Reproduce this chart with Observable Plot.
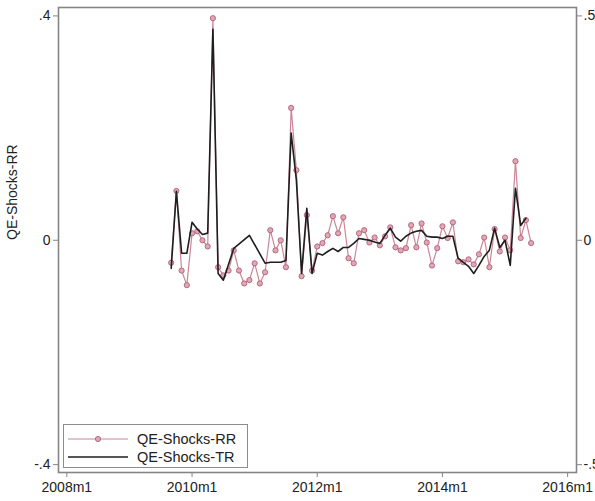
<!DOCTYPE html>
<html>
<head>
<meta charset="utf-8">
<script src="https://cdn.jsdelivr.net/npm/d3@7"></script>
<script src="https://cdn.jsdelivr.net/npm/@observablehq/plot@0.6"></script>
<style>
  html, body { margin: 0; padding: 0; background: #fff; }
  #wrap { position: relative; width: 595px; height: 501px; font-family: "Liberation Sans", Arial, sans-serif; }
  #legend { position: absolute; left: 63px; top: 424px; width: 185px; height: 44px; border: 1px solid #8c8c8c; background: #fff; box-sizing: border-box; }
  #legend .row { position: absolute; left: 4px; height: 16px; display: flex; align-items: center; font-size: 14.5px; color: #222; }
  #legend .row svg { margin-right: 9px; }
</style>
</head>
<body>
<div id="wrap">
  <div id="chart"></div>
  <div id="legend"></div>
</div>
<script>
// ---- data ----
const months = [
  "2009m9","2009m10","2009m11","2009m12",
  "2010m1","2010m2","2010m3","2010m4","2010m5","2010m6","2010m7","2010m8","2010m9","2010m10","2010m11","2010m12",
  "2011m1","2011m2","2011m3","2011m4","2011m5","2011m6","2011m7","2011m8","2011m9","2011m10","2011m11","2011m12",
  "2012m1","2012m2","2012m3","2012m4","2012m5","2012m6","2012m7","2012m8","2012m9","2012m10","2012m11","2012m12",
  "2013m1","2013m2","2013m3","2013m4","2013m5","2013m6","2013m7","2013m8","2013m9","2013m10","2013m11","2013m12",
  "2014m1","2014m2","2014m3","2014m4","2014m5","2014m6","2014m7","2014m8","2014m9","2014m10","2014m11","2014m12",
  "2015m1","2015m2","2015m3","2015m4","2015m5","2015m6"
];
// QE-Shocks-RR (left axis)
const rrValues = [
  -0.040, 0.088, -0.054, -0.080,
  0.0125, 0.016, 0.000, -0.011, 0.396, -0.048, -0.0625, -0.054, -0.018, -0.054, -0.077, -0.071,
  -0.041, -0.077, -0.057, 0.018, -0.018, 0.000, -0.048, 0.236, 0.125, -0.064, 0.045, -0.054,
  -0.011, -0.005, 0.009, 0.043, 0.0125, 0.041, -0.032, -0.041, 0.0125, 0.018, -0.004, 0.005,
  -0.009, 0.007, 0.023, -0.0125, -0.018, -0.014, 0.027, -0.0125, 0.030, -0.004, -0.045, -0.014,
  0.025, 0.004, 0.032, -0.0375, -0.039, -0.034, -0.043, -0.025, 0.005, -0.048, 0.020, -0.020,
  0.005, -0.018, 0.141, 0.004, 0.036, -0.005
];
// QE-Shocks-TR (right axis)
const trValues = [
  -0.0625, 0.109, -0.029, -0.029,
  0.040, 0.025, 0.013, 0.016, 0.470, -0.074, -0.089, null, -0.018, null, null, 0.011,
  null, null, -0.051, -0.049, -0.049, -0.049, -0.045, 0.239, 0.134, -0.074, 0.071, -0.074,
  -0.029, -0.033, -0.025, -0.018, -0.025, -0.016, -0.016, -0.007, 0.004, 0.002, 0.000, -0.004,
  -0.007, 0.011, 0.027, 0.007, -0.002, 0.009, 0.016, 0.020, 0.022, 0.009, 0.007, 0.007,
  0.004, 0.009, 0.009, -0.040, -0.049, -0.058, -0.074, -0.056, -0.036, -0.022, 0.027, -0.016,
  0.000, -0.056, 0.116, 0.033, 0.049, null
];
const xTickLabels = ["2008m1", "2010m1", "2012m1", "2014m1", "2016m1"];
const leftTicks = [-0.4, 0, 0.4];
const rightTicks = [-0.5, 0, 0.5];
const seriesNames = ["QE-Shocks-RR", "QE-Shocks-TR"];
const yTitle = "QE-Shocks-RR";

// ---- helpers ----
const monthIndex = s => { const [y, m] = s.split("m").map(Number); return (y - 2008) * 12 + (m - 1); };
const stataFmt = v => v === 0 ? "0" : String(v).replace("0.", ".");
const k = 0.4 / 0.5; // right-axis units -> left-axis units

const rrData = months.map((m, i) => ({t: monthIndex(m), v: rrValues[i]}));
const trData = months.map((m, i) => ({t: monthIndex(m), v: trValues[i]})).filter(d => d.v != null);
const xTicks = xTickLabels.map(monthIndex);
const xLabelMap = new Map(xTickLabels.map(s => [monthIndex(s), s]));

const rrColor = "#cc8598";
const rrMarkFill = "#e2a6b5";
const rrMarkStroke = "#ad6279";
const trColor = "#1e1e1e";
const axisColor = "#858585";

const chart = Plot.plot({
  width: 595,
  height: 501,
  marginLeft: 58,
  marginRight: 19,
  marginTop: 7,
  marginBottom: 29,
  style: {fontFamily: "'Liberation Sans', Arial, sans-serif", fontSize: "14px", color: "#222", background: "#fff"},
  x: {domain: [-1.6, 97.7]},
  y: {domain: [-0.414, 0.415]},
  marks: [
    Plot.frame({stroke: axisColor, strokeWidth: 1.6}),
    Plot.axisX(xTicks, {tickSize: 5, tickPadding: 5, stroke: axisColor, fill: "#222", tickFormat: d => xLabelMap.get(d), label: null}),
    Plot.axisY(leftTicks, {anchor: "left", tickSize: 5, tickPadding: 3, stroke: axisColor, fill: "#222", tickFormat: stataFmt, label: null}),
    Plot.axisY(rightTicks.map(t => t * k), {anchor: "right", tickSize: 5, tickPadding: 2, stroke: axisColor, fill: "#222",
      tickFormat: d => stataFmt(Math.round(d / k * 100) / 100), label: null}),
    Plot.text([yTitle], {frameAnchor: "left", rotate: -90, dx: -46, fill: "#222", fontSize: 14}),
    Plot.line(rrData, {x: "t", y: "v", stroke: rrColor, strokeWidth: 1.2}),
    Plot.dot(rrData, {x: "t", y: "v", r: 2.6, fill: rrMarkFill, stroke: rrMarkStroke, strokeWidth: 0.9}),
    Plot.line(trData, {x: "t", y: d => d.v * k, stroke: trColor, strokeWidth: 1.6})
  ]
});
document.getElementById("chart").appendChild(chart);

// ---- legend ----
const legend = document.getElementById("legend");
seriesNames.forEach((name, i) => {
  const row = document.createElement("div");
  row.className = "row";
  row.style.top = (i === 0 ? 6 : 24) + "px";
  const sw = i === 0
    ? `<svg width="60" height="10"><line x1="0" y1="5" x2="60" y2="5" stroke="${rrColor}" stroke-width="1.2"/><circle cx="30" cy="5" r="2.6" fill="${rrMarkFill}" stroke="${rrMarkStroke}" stroke-width="0.9"/></svg>`
    : `<svg width="60" height="10"><line x1="0" y1="5" x2="60" y2="5" stroke="${trColor}" stroke-width="1.6"/></svg>`;
  row.innerHTML = sw + `<span>${name}</span>`;
  legend.appendChild(row);
});
</script>
</body>
</html>
